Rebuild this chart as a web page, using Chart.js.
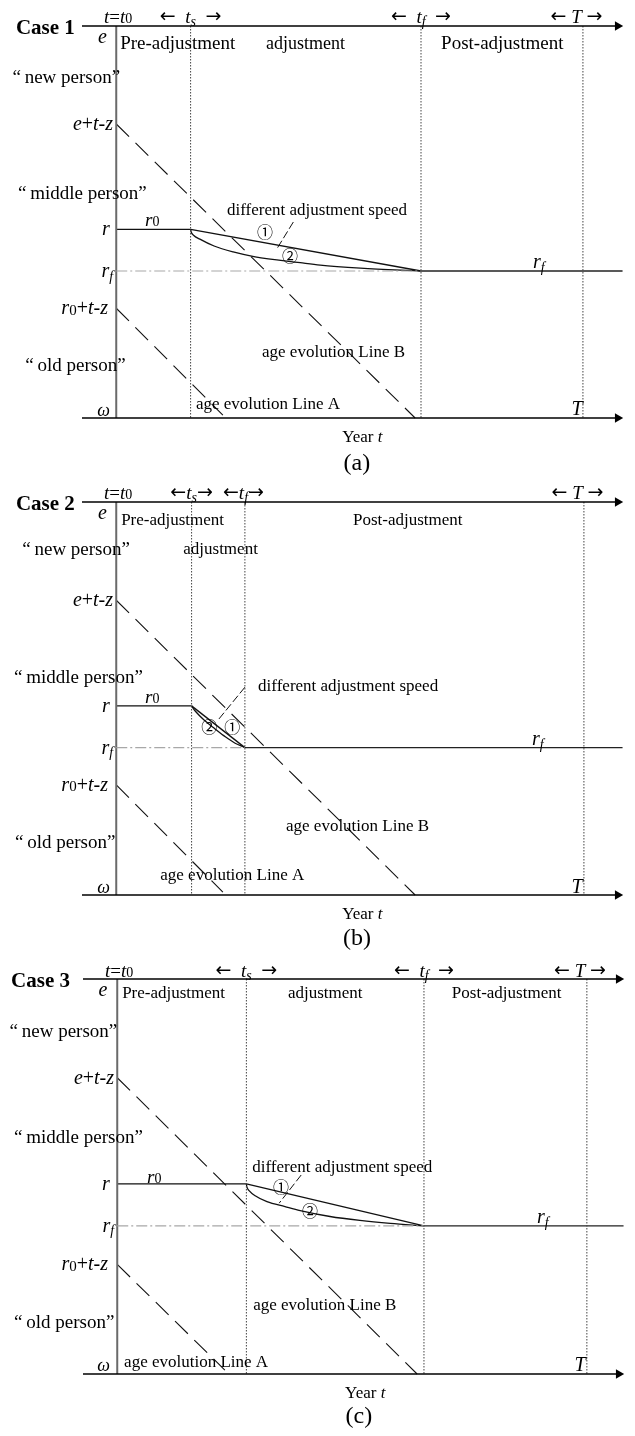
<!DOCTYPE html>
<html>
<head>
<meta charset="utf-8">
<script src="https://cdn.jsdelivr.net/npm/chart.js@4.4.1/dist/chart.umd.min.js"></script>
<style>
  html, body { margin: 0; padding: 0; background: #fff; }
  #wrap { position: relative; width: 635px; height: 1436px; }
  canvas { position: absolute; left: 0; display: block; }
</style>
</head>
<body>
<div id="wrap">
  <canvas id="c0" width="635" height="476" style="top:0px"></canvas>
  <canvas id="c1" width="635" height="476" style="top:476px"></canvas>
  <canvas id="c2" width="635" height="484" style="top:952px"></canvas>
</div>
<script>
// ---------------- data (years on x, age on y) ----------------
const caseTitles = ['Case 1', 'Case 2', 'Case 3'];
const panelTags = ['(a)', '(b)', '(c)'];
const ageEntry = 20;            // e
const ageOmega = 100;           // ω
const ageR = [61.5, 61.5, 61.5];      // r (r0)
const ageRf = [70, 70, 70];           // r_f
const ageETZ = [40, 40, 40];          // e+t-z
const ageR0TZ = [77.6, 77.6, 77.8];   // r0+t-z
const tS = [15.2, 15.4, 26.4];        // t_s
const tF = [62.3, 26.3, 62.7];        // t_f
const tT = [95.4, 95.6, 96.0];        // T
const lineBEndT = [61.1, 61.1, 61.3];
const lineAEndT = [21.8, 21.8, 22.0];
const lineAEndAge = [99.4, 99.4, 99.2];
const curve2T = [
  [15.2, 15.3, 15.8, 17.1, 20.0, 23.9, 28.4, 37.6, 41.7, 49.9, 62.3],
  [15.4, 16.1, 18.2, 20.2, 22.3, 24.3, 26.3],
  [26.4, 26.5, 27.0, 28.2, 30.6, 34.3, 37.4, 43.5, 49.6, 55.8, 62.7]
];
const curve2Age = [
  [61.5, 62.0, 62.7, 63.5, 64.9, 66.1, 67.1, 68.3, 68.8, 69.4, 70],
  [61.5, 62.5, 64.6, 66.2, 67.8, 69.1, 70],
  [61.5, 62.1, 62.9, 63.9, 65.1, 66.1, 66.9, 68.1, 68.9, 69.5, 70]
];
const leaderT = [[36.2, 32.7], [26.3, 20.8], [37.6, 33.1]];
const leaderAge = [[60.0, 65.7], [57.7, 64.4], [59.7, 65.4]];
const xMin = -7, xMax = 104, axisEnd = 102.5, rfEnd = 103.5;

// ---------------- text helpers ----------------
const FAM = '"Liberation Serif", "Times New Roman", serif';
const CIRC = '"Noto Sans CJK SC", "Noto Sans CJK JP", "DejaVu Sans", sans-serif';
const ARR = '"DejaVu Sans", sans-serif';
function segFont(st, size) {
  if (st === 'i') return `italic ${size}px ${FAM}`;
  if (st === 'b') return `bold ${size}px ${FAM}`;
  if (st === 's') return `italic ${Math.round(size * 0.72)}px ${FAM}`;
  if (st === 'd') return `${Math.round(size * 0.75)}px ${FAM}`;
  if (st === 'c') return `${size}px ${CIRC}`;
  if (st === 'a') return `${size}px ${ARR}`;
  return `${size}px ${FAM}`;
}
function drawRich(ctx, segs, x, cy, size, align) {
  const w = []; let total = 0;
  segs.forEach(([t, st]) => { ctx.font = segFont(st, size); const m = ctx.measureText(t).width; w.push(m); total += m; });
  let sx = align === 'center' ? x - total / 2 : align === 'right' ? x - total : x;
  const base = cy + size * 0.3;
  ctx.textAlign = 'left'; ctx.fillStyle = '#000';
  segs.forEach(([t, st], k) => {
    ctx.font = segFont(st, size);
    if (st === 'c' || st === 'a') { ctx.textBaseline = 'middle'; ctx.fillText(t, sx, cy); }
    else {
      ctx.textBaseline = 'alphabetic';
      const off = st === 's' ? size * 0.18 : st === 'd' ? size * 0.02 : 0;
      ctx.fillText(t, sx, base + off);
    }
    sx += w[k];
  });
}
const annot = {
  id: 'annot',
  afterDraw(chart, args, opts) {
    const ctx = chart.ctx, xs = chart.scales.x, ys = chart.scales.y;
    ctx.save();
    for (const L of opts.labels) {
      const segs = typeof L.s === 'string' ? [[L.s, L.st || '']] : L.s;
      drawRich(ctx, segs, xs.getPixelForValue(L.x), ys.getPixelForValue(L.y), L.size, L.align || 'left');
    }
    ctx.restore();
  }
};

// common rich text pieces
const S_t0 = [['t', 'i'], ['=', ''], ['t', 'i'], ['0', 'd']];
const S_ts = (sp) => [['←', 'a'], [sp, ''], ['t', 'i'], ['s', 's'], [sp, ''], ['→', 'a']];
const S_tf = (sp) => [['←', 'a'], [sp, ''], ['t', 'i'], ['f', 's'], [sp, ''], ['→', 'a']];
const S_T = [['←', 'a'], [' ', ''], ['T', 'i'], [' ', ''], ['→', 'a']];
const S_e = [['e', 'i']];
const S_etz = [['e', 'i'], ['+', ''], ['t', 'i'], ['-', ''], ['z', 'i']];
const S_r = [['r', 'i']];
const S_r0 = [['r', 'i'], ['0', 'd']];
const S_rf = [['r', 'i'], ['f', 's']];
const S_r0tz = [['r', 'i'], ['0', 'd'], ['+', ''], ['t', 'i'], ['-', ''], ['z', 'i']];
const S_w = [['ω', 'i']];
const S_Ti = [['T', 'i']];
const S_year = [['Year ', ''], ['t', 'i']];
const NEW = '“\u2009new person”', MID = '“\u2009middle person”', OLD = '“\u2009old person”';

function labelsFor(i) {
  const R = ageR[i], RF = ageRf[i], ETZ = ageETZ[i], R0TZ = ageR0TZ[i];
  if (i === 0) return [
    { s: [[caseTitles[0], 'b']], x: -20.5, y: 20.3, size: 21 },
    { s: S_t0, x: 0.4, y: 18.2, size: 19, align: 'center' },
    { s: S_ts('  '), x: tS[0], y: 18.2, size: 19, align: 'center' },
    { s: S_tf('  '), x: tF[0], y: 18.2, size: 19, align: 'center' },
    { s: S_T, x: tT[0] - 1.3, y: 18.2, size: 19, align: 'center' },
    { s: S_e, x: -1.9, y: 22.2, size: 20, align: 'right' },
    { s: 'Pre-adjustment', x: 0.8, y: 23.5, size: 19 },
    { s: 'adjustment', x: 30.6, y: 23.5, size: 18 },
    { s: 'Post-adjustment', x: 66.4, y: 23.5, size: 19 },
    { s: NEW, x: 0.8, y: 30.4, size: 19, align: 'right' },
    { s: S_etz, x: -0.65, y: ETZ, size: 20, align: 'right' },
    { s: MID, x: -20.1, y: 54.1, size: 19 },
    { s: S_r, x: -1.3, y: R, size: 20, align: 'right' },
    { s: S_r0, x: 5.9, y: 59.6, size: 19 },
    { s: 'different adjustment speed', x: 22.65, y: 57.6, size: 17 },
    { s: [['①', 'c']], x: 30.4, y: 62.0, size: 16, align: 'center' },
    { s: [['②', 'c']], x: 35.5, y: 66.9, size: 16, align: 'center' },
    { s: S_rf, x: -0.65, y: RF, size: 20, align: 'right' },
    { s: S_rf, x: 86.4, y: 68.2, size: 20, align: 'center' },
    { s: S_r0tz, x: -1.7, y: R0TZ, size: 20, align: 'right' },
    { s: OLD, x: -18.6, y: 89.2, size: 19 },
    { s: S_w, x: -1.3, y: 98.4, size: 18, align: 'right' },
    { s: 'age evolution Line B', x: 29.8, y: 86.5, size: 17 },
    { s: 'age evolution Line A', x: 16.3, y: 97.1, size: 17 },
    { s: S_Ti, x: 94.2, y: 98.2, size: 20, align: 'center' },
    { s: S_year, x: 50.3, y: 103.9, size: 17, align: 'center' },
    { s: panelTags[0], x: 49.2, y: 109.2, size: 24, align: 'center' }
  ];
  if (i === 1) return [
    { s: [[caseTitles[1], 'b']], x: -20.5, y: 20.3, size: 21 },
    { s: S_t0, x: 0.4, y: 18.2, size: 19, align: 'center' },
    { s: S_ts(''), x: tS[1], y: 18.2, size: 19, align: 'center' },
    { s: S_tf(''), x: 26.0, y: 18.2, size: 19, align: 'center' },
    { s: S_T, x: tT[1] - 1.3, y: 18.2, size: 19, align: 'center' },
    { s: S_e, x: -1.9, y: 22.2, size: 20, align: 'right' },
    { s: 'Pre-adjustment', x: 1.0, y: 23.7, size: 17 },
    { s: 'adjustment', x: 13.7, y: 29.6, size: 17 },
    { s: 'Post-adjustment', x: 48.4, y: 23.7, size: 17 },
    { s: NEW, x: 2.8, y: 29.6, size: 19, align: 'right' },
    { s: S_etz, x: -0.65, y: ETZ, size: 20, align: 'right' },
    { s: MID, x: -20.9, y: 55.6, size: 19 },
    { s: S_r, x: -1.3, y: R, size: 20, align: 'right' },
    { s: S_r0, x: 5.9, y: 59.7, size: 19 },
    { s: 'different adjustment speed', x: 29.0, y: 57.5, size: 17 },
    { s: [['②', 'c']], x: 19.0, y: 65.8, size: 16, align: 'center' },
    { s: [['①', 'c']], x: 23.7, y: 65.8, size: 16, align: 'center' },
    { s: S_rf, x: -0.65, y: RF, size: 20, align: 'right' },
    { s: S_rf, x: 86.2, y: 68.3, size: 20, align: 'center' },
    { s: S_r0tz, x: -1.7, y: R0TZ, size: 20, align: 'right' },
    { s: OLD, x: -20.7, y: 89.2, size: 19 },
    { s: S_w, x: -1.3, y: 98.4, size: 18, align: 'right' },
    { s: 'age evolution Line B', x: 34.7, y: 86.0, size: 17 },
    { s: 'age evolution Line A', x: 9.0, y: 95.9, size: 17 },
    { s: S_Ti, x: 94.2, y: 98.4, size: 20, align: 'center' },
    { s: S_year, x: 50.3, y: 103.9, size: 17, align: 'center' },
    { s: panelTags[1], x: 49.2, y: 108.8, size: 24, align: 'center' }
  ];
  return [
    { s: [[caseTitles[2], 'b']], x: -21.7, y: 20.4, size: 21 },
    { s: S_t0, x: 0.4, y: 18.4, size: 19, align: 'center' },
    { s: S_ts('  '), x: tS[2], y: 18.4, size: 19, align: 'center' },
    { s: S_tf('  '), x: tF[2], y: 18.4, size: 19, align: 'center' },
    { s: S_T, x: tT[2] - 1.4, y: 18.4, size: 19, align: 'center' },
    { s: S_e, x: -2.0, y: 22.2, size: 20, align: 'right' },
    { s: 'Pre-adjustment', x: 1.0, y: 22.8, size: 17 },
    { s: 'adjustment', x: 34.9, y: 22.8, size: 17 },
    { s: 'Post-adjustment', x: 68.4, y: 22.8, size: 17 },
    { s: NEW, x: 0.0, y: 30.5, size: 19, align: 'right' },
    { s: S_etz, x: -0.65, y: ETZ, size: 20, align: 'right' },
    { s: MID, x: -21.1, y: 52.0, size: 19 },
    { s: S_r, x: -1.5, y: R, size: 20, align: 'right' },
    { s: S_r0, x: 6.1, y: 60.1, size: 19 },
    { s: 'different adjustment speed', x: 27.6, y: 58.1, size: 17 },
    { s: [['①', 'c']], x: 33.5, y: 62.1, size: 16, align: 'center' },
    { s: [['②', 'c']], x: 39.4, y: 67.0, size: 16, align: 'center' },
    { s: S_rf, x: -0.65, y: RF, size: 20, align: 'right' },
    { s: S_rf, x: 87.0, y: 68.2, size: 20, align: 'center' },
    { s: S_r0tz, x: -1.9, y: R0TZ, size: 20, align: 'right' },
    { s: OLD, x: -21.1, y: 89.5, size: 19 },
    { s: S_w, x: -1.5, y: 98.2, size: 18, align: 'right' },
    { s: 'age evolution Line B', x: 27.8, y: 86.0, size: 17 },
    { s: 'age evolution Line A', x: 1.4, y: 97.6, size: 17 },
    { s: S_Ti, x: 94.6, y: 98.2, size: 20, align: 'center' },
    { s: S_year, x: 50.7, y: 103.8, size: 17, align: 'center' },
    { s: panelTags[2], x: 49.4, y: 108.5, size: 24, align: 'center' }
  ];
}

// ---------------- chart building ----------------
function line(points, color, width, dash, extra) {
  return Object.assign({
    data: points, borderColor: color, borderWidth: width, borderDash: dash || [],
    pointRadius: 0, showLine: true, fill: false, clip: false, tension: 0
  }, extra || {});
}
function pts(xsArr, ysArr) { return xsArr.map((x, k) => ({ x, y: ysArr[k] })); }

function build(i, canvasId, padding) {
  const arrow = { pointRadius: [0, 5.5], pointStyle: 'triangle', rotation: 90, pointBackgroundColor: '#000', pointBorderColor: '#000', pointBorderWidth: 0 };
  const vDot = (t) => line([{ x: t, y: ageEntry }, { x: t, y: ageOmega }], '#444', 1, [1.5, 1.5]);
  const datasets = [
    line([{ x: xMin, y: ageEntry }, { x: axisEnd, y: ageEntry }], '#000', 1.4, [], arrow),
    line([{ x: xMin, y: ageOmega }, { x: axisEnd, y: ageOmega }], '#000', 1.4, [], arrow),
    vDot(tS[i]), vDot(tF[i]), vDot(tT[i]),
    line([{ x: 0, y: ageRf[i] }, { x: tF[i], y: ageRf[i] }], '#a8a8a8', 1.2, [11, 3, 2, 3]),
    line([{ x: 0, y: ageEntry }, { x: 0, y: ageOmega }], '#6a6a6a', 2),
    line([{ x: 0, y: ageR[i] }, { x: tS[i], y: ageR[i] }], '#111', 1.3),
    line([{ x: tS[i], y: ageR[i] }, { x: tF[i], y: ageRf[i] }], '#111', 1.3),
    line(pts(curve2T[i], curve2Age[i]), '#111', 1.3, [], { cubicInterpolationMode: 'monotone' }),
    line([{ x: tF[i], y: ageRf[i] }, { x: rfEnd, y: ageRf[i] }], '#222', 1.3),
    line([{ x: 0, y: ageETZ[i] }, { x: lineBEndT[i], y: ageOmega }], '#111', 1.1, [18, 9]),
    line([{ x: 0, y: ageR0TZ[i] }, { x: lineAEndT[i], y: lineAEndAge[i] }], '#111', 1.1, [18, 9]),
    line(pts(leaderT[i], leaderAge[i]), '#111', 1, [8, 3])
  ];
  new Chart(document.getElementById(canvasId), {
    type: 'scatter',
    data: { datasets },
    options: {
      responsive: false, animation: false, events: [],
      layout: { padding },
      scales: {
        x: { type: 'linear', min: xMin, max: xMax, display: false },
        y: { type: 'linear', min: ageEntry, max: ageOmega, reverse: true, display: false }
      },
      plugins: { legend: { display: false }, tooltip: { enabled: false }, annot: { labels: labelsFor(i) } }
    },
    plugins: [annot]
  });
}
build(0, 'c0', { left: 82, right: 10, top: 26, bottom: 58 });
build(1, 'c1', { left: 82, right: 10, top: 26, bottom: 57 });
build(2, 'c2', { left: 83, right: 9, top: 27, bottom: 62 });
</script>
</body>
</html>
